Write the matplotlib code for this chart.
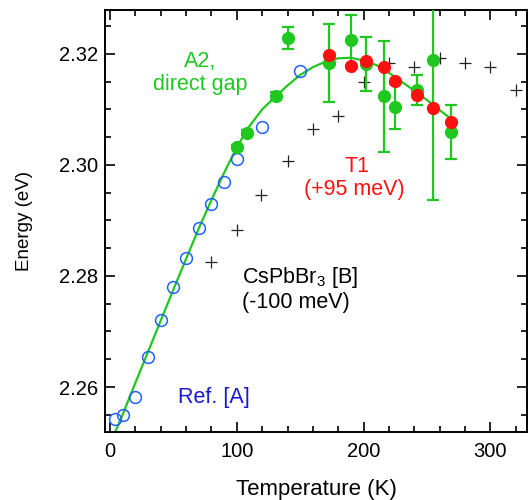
import numpy as np
import matplotlib.pyplot as plt
from matplotlib.ticker import MultipleLocator

plt.rcParams['font.family'] = ['Liberation Sans', 'DejaVu Sans']
plt.rcParams['mathtext.fontset'] = 'custom'
plt.rcParams['mathtext.rm'] = 'Liberation Sans'

# Ref. [A] (blue open circles)
refT = [4, 10, 20, 30, 40, 50, 60, 70, 80, 90, 100, 120, 150]
refE = [2.2542, 2.2550, 2.2582, 2.2654, 2.2721, 2.2780, 2.2832, 2.2886,
        2.2930, 2.2969, 2.3011, 2.3068, 2.3169]

# A2 direct gap (green filled, with error bars)
a2T = [100, 108, 131, 140, 173, 190, 202, 216, 225, 242, 255, 269]
a2E = [2.3032, 2.3058, 2.3124, 2.3229, 2.3184, 2.3225, 2.3182, 2.3124,
       2.3105, 2.3135, 2.3189, 2.3059]
a2err = [0.0004, 0.0004, 0.0007, 0.0020, 0.0070, 0.0045, 0.0049, 0.0100,
         0.0041, 0.0027, 0.0252, 0.0049]

# T1 (+95 meV), red filled
t1T = [173, 190, 202, 216, 225, 242, 255, 269]
t1E = [2.3198, 2.3178, 2.3188, 2.3177, 2.3151, 2.3126, 2.3103, 2.3078]

# CsPbBr3 [B] (-100 meV), black crosses
cbT = [80, 100, 119, 140, 160, 180, 200, 220, 240, 260, 280, 300, 320]
cbE = [2.2825, 2.2883, 2.2946, 2.3007, 2.3065, 2.3088, 2.3150, 2.3184,
       2.3177, 2.3193, 2.3184, 2.3177, 2.3135]

# fit line for A2
fitT = [4, 10, 20, 30, 40, 50, 60, 70, 80, 90, 100, 110, 120, 130, 140,
        150, 160, 170, 180, 190, 200, 210, 220, 230, 240, 250, 260, 270]
fitE = [2.2519, 2.2551, 2.2608, 2.2664, 2.2720, 2.2776, 2.2831, 2.2886,
        2.2937, 2.2986, 2.3032, 2.3070, 2.3100, 2.3122, 2.3143, 2.3162,
        2.3176, 2.3186, 2.3192, 2.3193, 2.3188, 2.3180, 2.3166, 2.3150,
        2.3134, 2.3117, 2.3099, 2.3081]

green = '#1ec81e'
red = '#ff1010'
blue = '#2060ff'
fs = 15.5

fig = plt.figure(figsize=(5.28, 5.0), dpi=100)
ax = fig.add_axes([0.199, 0.136, 0.799, 0.844])

ax.plot(fitT, fitE, color=green, lw=1.6, zorder=2)
ax.plot(cbT, cbE, ls='none', marker='+', color='#222222', ms=8, mew=0.9, zorder=3)
ax.plot(refT, refE, ls='none', marker='o', mfc='none', mec=blue, ms=8.5, mew=1.1, zorder=4)
ax.errorbar(a2T, a2E, yerr=a2err, fmt='o', color=green, ms=8.5, elinewidth=1.6,
            capsize=4, capthick=1.6, zorder=5)
ax.plot(t1T, t1E, ls='none', marker='o', color=red, ms=8.5, zorder=6)

# annotations (one line each)
ax.text(70.8, 2.31766, 'A2,', color=green, fontsize=fs, ha='center', va='baseline')
ax.text(70.8, 2.31351, 'direct gap', color=green, fontsize=fs, ha='center', va='baseline')
ax.text(194.5, 2.29874, 'T1', color=red, fontsize=fs, ha='center', va='baseline')
ax.text(192.5, 2.29459, '(+95 meV)', color=red, fontsize=fs, ha='center', va='baseline')
ax.text(104, 2.27874, 'CsPbBr$_3$ [B]', color='black', fontsize=fs, ha='left', va='baseline')
ax.text(104, 2.27423, '(-100 meV)', color='black', fontsize=fs, ha='left', va='baseline')
ax.text(53.4, 2.25712, 'Ref. [A]', color='#1a1ad0', fontsize=fs, ha='left', va='baseline')

ax.set_xlim(-4, 329)
ax.set_ylim(2.2519, 2.3279)
ax.xaxis.set_major_locator(MultipleLocator(100))
ax.xaxis.set_minor_locator(MultipleLocator(20))
ax.yaxis.set_major_locator(MultipleLocator(0.02))
ax.yaxis.set_minor_locator(MultipleLocator(0.005))
ax.yaxis.set_major_formatter(plt.FormatStrFormatter('%.2f'))
ax.tick_params(which='both', direction='in', top=True, right=True, labelsize=14.5,
               width=1.2)
ax.tick_params(which='major', length=7)
ax.tick_params(which='minor', length=4)
ax.tick_params(axis='x', pad=7)
ax.tick_params(axis='y', pad=5)
for s in ax.spines.values():
    s.set_linewidth(1.4)

ax.set_xlabel('Temperature (K)', fontsize=16, labelpad=13)
ax.set_ylabel('Energy (eV)', fontsize=13.5, labelpad=19)

fig.savefig('out.png', dpi=100)
